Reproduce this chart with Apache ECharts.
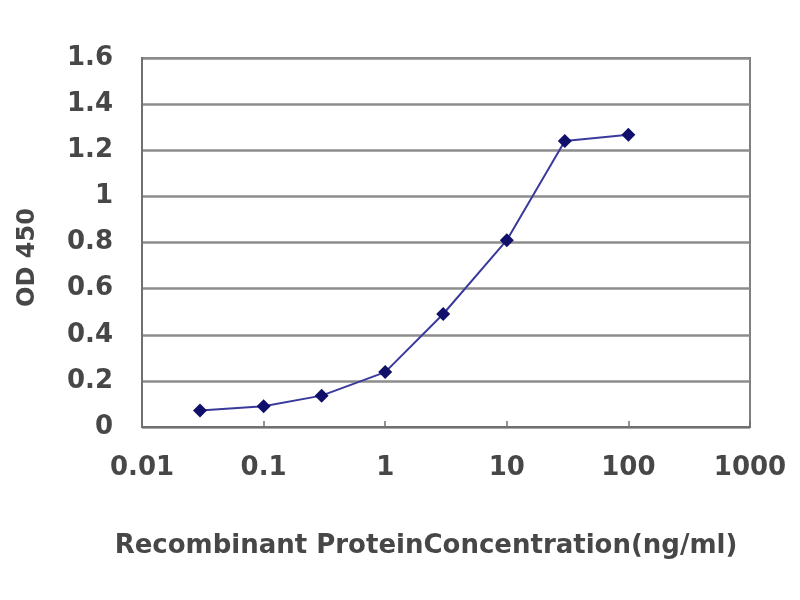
<!DOCTYPE html>
<html>
<head>
<meta charset="utf-8">
<script src="https://cdn.jsdelivr.net/npm/echarts@6/dist/echarts.min.js"></script>
<style>html,body{margin:0;padding:0;background:#fff}#c{width:800px;height:600px}</style>
</head>
<body>
<div id="c"></div>
<script>
const concentrations = [0.03, 0.1, 0.3, 1, 3, 10, 30, 100];
const od450 = [0.072, 0.09, 0.136, 0.238, 0.49, 0.81, 1.24, 1.267];
const xTitle = 'Recombinant ProteinConcentration(ng/ml)';
const yTitle = 'OD 450';

const chart = echarts.init(document.getElementById('c'));
const font = 'DejaVu Sans';
const txt = '#474747';
chart.setOption({
  animation: false,
  backgroundColor: '#fff',
  grid: {left: 142, right: 50, top: 58, bottom: 173, show: true, borderColor: '#808080', borderWidth: 2, backgroundColor: '#fff'},
  xAxis: {
    type: 'log', logBase: 10, min: 0.01, max: 1000,
    name: xTitle, nameLocation: 'middle', nameGap: 106,
    nameTextStyle: {fontFamily: font, fontSize: 26, fontWeight: 'bold', color: txt, padding: [0, 40, 0, 0]},
    axisLine: {onZero: false, lineStyle: {color: '#707070', width: 2}},
    axisTick: {inside: true, length: 6, lineStyle: {color: '#707070', width: 1.5}},
    splitLine: {show: false},
    minorTick: {show: false},
    axisLabel: {margin: 28, fontFamily: font, fontSize: 26, fontWeight: 'bold', color: txt,
      formatter: v => String(Number(Number(v).toPrecision(1)))}
  },
  yAxis: {
    type: 'value', min: 0, max: 1.6, interval: 0.2,
    name: yTitle, nameLocation: 'middle', nameGap: 102, nameRotate: 90,
    nameTextStyle: {fontFamily: font, fontSize: 24, fontWeight: 'bold', color: txt, padding: [0, 30, 0, 0]},
    axisLine: {show: true, lineStyle: {color: '#707070', width: 2}},
    axisTick: {show: false},
    splitLine: {lineStyle: {color: '#8c8c8c', width: 2.5}},
    axisLabel: {margin: 29, fontFamily: font, fontSize: 26, fontWeight: 'bold', color: txt}
  },
  series: [{
    type: 'line',
    data: concentrations.map((c, i) => [c, od450[i]]),
    symbol: 'diamond', symbolSize: 14,
    itemStyle: {color: '#10106a'},
    lineStyle: {color: '#3a3a9c', width: 2}
  }]
});
</script>
</body>
</html>
